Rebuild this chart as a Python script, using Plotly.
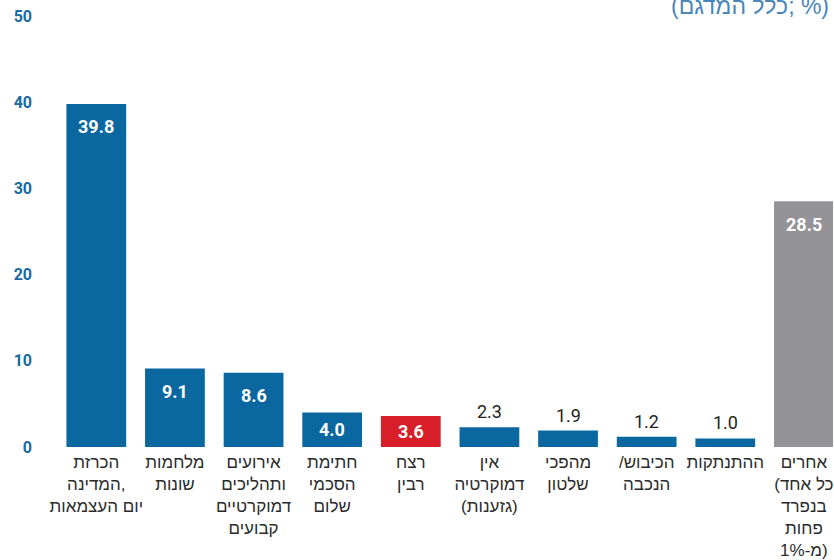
import plotly.graph_objects as go

# --- DATA ---
categories = [
    "הכרזת<br>המדינה,<br>יום העצמאות",
    "מלחמות<br>שונות",
    "אירועים<br>ותהליכים<br>דמוקרטיים<br>קבועים",
    "חתימת<br>הסכמי<br>שלום",
    "רצח<br>רבין",
    "אין<br>דמוקרטיה<br>(גזענות)",
    "מהפכי<br>שלטון",
    "/הכיבוש<br>הנכבה",
    "ההתנתקות",
    "אחרים<br>(כל אחד<br>בנפרד<br>פחות<br>מ-1%)",
]
values = [39.8, 9.1, 8.6, 4.0, 3.6, 2.3, 1.9, 1.2, 1.0, 28.5]
bar_colors = ["#0a67a0"] * 4 + ["#d81e29"] + ["#0a67a0"] * 4 + ["#939398"]
y_ticks = [0, 10, 20, 30, 40, 50]
title_text = "(כלל המדגם; %)"

BLUE_TXT = "#1a6a9f"
HEB_FONT = "Liberation Sans, Arial, sans-serif"
NUM_FONT = "Roboto, Arial, sans-serif"

fig = go.Figure(go.Bar(
    x=list(range(len(values))), y=values,
    marker=dict(color=bar_colors, line=dict(width=0)),
    hoverinfo="skip",
))

# value labels: white inside the tall bars, dark above the short ones
px_per_unit = 433.5 / 50
for i, v in enumerate(values):
    if v >= 3:
        fig.add_annotation(
            x=i, y=max(v - 23 / px_per_unit, v / 2), yanchor="middle",
            text=f"<b>{v:.1f}</b>", showarrow=False,
            font=dict(family=NUM_FONT, size=18, color="white"),
        )
    else:
        fig.add_annotation(
            x=i, y=v, yanchor="bottom", yshift=3,
            text=f"{v:.1f}", showarrow=False,
            font=dict(family=NUM_FONT, size=18, color="#231f20"),
        )

# title sits partly above the top edge, as in the source
fig.add_annotation(
    xref="paper", yref="paper", x=1, y=1, xanchor="right", yanchor="middle",
    xshift=-2, yshift=10, text=title_text, showarrow=False,
    font=dict(family=HEB_FONT, size=23, color="#4a86ba"),
)

fig.update_layout(
    width=834, height=560,
    margin=dict(l=57, r=0, t=15.5, b=111),
    paper_bgcolor="white", plot_bgcolor="white",
    bargap=0.24, showlegend=False,
    xaxis=dict(
        range=[-0.5, 9.37], tickmode="array",
        tickvals=list(range(len(categories))), ticktext=categories,
        tickangle=0, showgrid=False, zeroline=False, showline=False,
        ticks="", ticklabelstandoff=3, ticklabeloverflow="allow",
        tickfont=dict(family=HEB_FONT, size=17, color="#2b2b2b"),
    ),
    yaxis=dict(
        range=[0, 50], tickmode="array", tickvals=y_ticks,
        showgrid=False, zeroline=False, showline=False,
        ticks="", ticklabelstandoff=24,
        tickfont=dict(family=NUM_FONT, size=16, color=BLUE_TXT, weight="bold"),
    ),
)

# drop the page's default body margin so the chart sits at the window's corner
fig.write_html(
    "out.html",
    config={"displayModeBar": False},
    post_script="document.body.style.margin='0';document.body.style.overflow='hidden';",
)
